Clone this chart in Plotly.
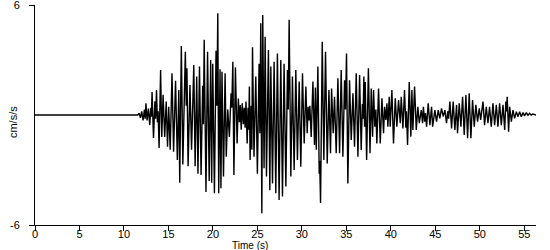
import plotly.graph_objects as go

# Extremes of the acceleration trace (time in s, cm/s/s)
time_s = [
    0, 11.55, 11.7, 11.85, 12.0, 12.15, 12.3, 12.38, 12.47, 12.6, 12.75, 12.9, 13.02, 13.08,
    13.16, 13.32, 13.48, 13.56, 13.66, 13.76, 13.84, 13.95, 14.12, 14.25, 14.4, 14.58, 14.75,
    14.9, 15.03, 15.2, 15.4, 15.58, 15.8, 16.0, 16.17, 16.27, 16.45, 16.62, 16.9, 17.0, 17.08,
    17.21, 17.42, 17.6, 17.85, 18.0, 18.18, 18.32, 18.49, 18.67, 18.85, 18.93, 19.02, 19.22,
    19.4, 19.58, 19.75, 19.86, 19.98, 20.17, 20.35, 20.44, 20.55, 20.65, 20.8, 20.9, 21.02,
    21.19, 21.37, 21.5, 21.67, 21.85, 22.04, 22.12, 22.24, 22.36, 22.53, 22.72, 22.86, 22.98,
    23.08, 23.18, 23.3, 23.42, 23.52, 23.62, 23.72, 23.85, 23.95, 24.02, 24.1, 24.18, 24.3,
    24.38, 24.45, 24.62, 24.82, 25.0, 25.19, 25.28, 25.38, 25.5, 25.6, 25.75, 25.87, 26.02,
    26.24, 26.4, 26.51, 26.7, 26.88, 27.07, 27.25, 27.44, 27.63, 27.82, 28.0, 28.2, 28.38,
    28.47, 28.57, 28.76, 28.94, 29.13, 29.32, 29.5, 29.7, 29.88, 30.07, 30.26, 30.45, 30.6,
    30.7, 30.8, 30.9, 31.05, 31.24, 31.42, 31.52, 31.62, 31.8, 31.95, 32.0, 32.1, 32.29, 32.47,
    32.66, 32.85, 33.04, 33.22, 33.34, 33.52, 33.67, 33.86, 34.05, 34.24, 34.42, 34.61, 34.8,
    34.9, 35.02, 35.17, 35.36, 35.55, 35.74, 35.92, 36.11, 36.3, 36.49, 36.67, 36.8, 36.88,
    36.97, 37.05, 37.12, 37.28, 37.48, 37.66, 37.8, 37.95, 38.06, 38.2, 38.32, 38.43, 38.62,
    38.81, 39.0, 39.18, 39.3, 39.44, 39.56, 39.67, 39.82, 39.93, 40.12, 40.3, 40.5, 40.68,
    40.87, 41.06, 41.17, 41.36, 41.54, 41.69, 41.76, 41.88, 42.07, 42.25, 42.37, 42.48, 42.67,
    42.86, 43.04, 43.2, 43.42, 43.57, 43.66, 43.8, 43.9, 44.02, 44.2, 44.39, 44.58, 44.7,
    44.95, 45.14, 45.33, 45.51, 45.7, 45.89, 46.08, 46.26, 46.4, 46.5, 46.64, 46.83, 47.01,
    47.2, 47.39, 47.5, 47.69, 47.88, 48.07, 48.25, 48.44, 48.63, 48.81, 49.0, 49.19, 49.38,
    49.56, 49.75, 49.94, 50.1, 50.36, 50.54, 50.73, 50.92, 51.1, 51.29, 51.48, 51.67, 51.86,
    52.04, 52.23, 52.42, 52.61, 52.8, 52.93, 53.0, 53.08, 53.24, 53.36, 53.55, 53.73, 53.92,
    54.11, 54.3, 54.48, 54.67, 54.86, 55.04, 55.23, 55.42, 55.6, 55.78, 55.95, 56.32,
]
accel = [
    0, 0, 0.1, -0.15, 0.2, -0.3, 0.3, -0.2, 0.64, -0.3, 0.35, -0.55, 0.4, -0.1,
    1.25, -1.25, 0.75, -0.2, 1.36, -0.4, 0.2, -1.8, 2.45, -1.2, 1.1, -1.2, 0.73,
    -1.73, 0.45, -1.9, 2.27, -2.0, 1.87, -2.45, 1.36, -3.7, 3.76, -2.7, 3.45, 0.5, 2.55,
    -2.8, 1.64, -1.9, 2.73, -2.8, 2.1, -3.2, 2.64, -3.27, 1.6, -0.5, 4.1, -4.2,
    3.45, -3.6, 3.0, -3.7, 2.8, -4.27, 3.5, 0.5, 5.55, -4.27, 2.5, -4.0, 2.36,
    -3.36, 2.27, -2.27, 0.3, -1.2, 1.18, 0.4, 2.9, -3.27, 2.6, -1.55, 0.9, -0.4,
    0.55, -0.8, 0.64, -0.5, 0.4, -0.7, 0.73, -1.55, 0.4, -0.8, 1.55, -2.45, 0.5,
    -1.9, 3.7, -2.27, 2.1, -3.2, 2.8, -1.0, 5.0, -5.36, 5.45, -2.9, 4.27, -3.36,
    3.55, -4.1, 2.64, -3.73, 2.9, -4.27, 3.36, -4.64, 3.0, -4.45, 2.8, -3.9, 2.45,
    0.3, 5.2, -3.36, 2.1, -3.0, 2.45, -2.45, 1.82, -2.82, 2.27, -1.55, 1.55, -1.0,
    0.45, -0.3, 0.5, -1.2, 1.82, -1.64, 1.5, -1.9, 2.64, -3.2, -2.5, -4.8, 4.0, -2.45,
    3.45, -2.64, 1.36, -2.09, 1.45, -1.0, 1.0, -2.09, 2.0, -2.09, 2.45, -2.27, 1.9,
    0.3, 3.36, -3.73, 1.9, -1.36, 1.18, -1.73, 2.27, -2.27, 2.18, -1.91, 0.6, -0.2,
    2.1, -0.64, 1.8, -2.45, 2.55, -2.09, 1.45, -1.18, 1.36, -0.64, 0.3, -1.55, 1.45,
    -1.55, 0.91, -1.0, 0.45, -0.27, 0.64, -0.64, 1.0, -0.64, 1.36, -1.55, 0.91, -0.64,
    0.82, -0.45, 1.0, -0.73, 1.36, -0.7, 0.2, -1.64, 1.8, -1.18, 1.36, -0.82, 1.55,
    -0.82, 0.45, -0.45, 0.27, -0.45, 0.45, -0.36, 0.1, -0.64, 0.64, -0.55, 0.45, -0.64,
    0.27, -0.36, 0.27, -0.18, 0.36, -0.09, 0.27, -0.45, 0.2, -0.2, 0.73, -0.73, 0.73,
    -0.82, 0.55, -1.0, 0.64, -0.64, 1.0, -1.09, 1.09, -1.27, 1.18, -1.27, 0.82, -0.64,
    0.55, -0.36, 0.36, -0.27, 0.73, -0.55, 0.45, -0.45, 0.45, -0.64, 0.64, -0.55, 0.55,
    -0.64, 0.64, -0.55, 0.55, -0.82, 0.73, 0.2, 1.0, -0.91, 0.45, -0.36, 0.27, -0.18,
    0.18, -0.09, 0.18, -0.09, 0.13, -0.05, 0.13, -0.02, 0.09, 0.0, 0.05, 0.0,
]

x_ticks = [0, 5, 10, 15, 20, 25, 30, 35, 40, 45, 50, 55]
y_ticks = [-6, 6]
x_max = 56.32
y_lim = 6

font_family = "Liberation Sans, Arial, sans-serif"

fig = go.Figure()
fig.add_trace(go.Scatter(
    x=time_s, y=accel, mode="lines",
    line=dict(color="black", width=1.4),
    hoverinfo="skip", showlegend=False,
))

fig.update_layout(
    width=550, height=250,
    margin=dict(l=35, r=14, t=5, b=25, autoexpand=False),
    paper_bgcolor="white", plot_bgcolor="white",
    font=dict(family=font_family, size=11, color="black"),
    xaxis=dict(
        range=[0, x_max], tickvals=x_ticks, ticktext=[str(v) for v in x_ticks],
        showline=True, linecolor="black", linewidth=1,
        ticks="outside", ticklen=5, tickcolor="black", tickwidth=1,
        showgrid=False, zeroline=False, ticklabelstandoff=-6,
        ticklabeloverflow="allow", automargin=False,
    ),
    yaxis=dict(
        range=[-y_lim, y_lim], tickvals=y_ticks, ticktext=[str(v) for v in y_ticks],
        showline=True, linecolor="black", linewidth=1,
        ticks="outside", ticklen=5, tickcolor="black", tickwidth=1,
        showgrid=False, zeroline=False, ticklabelstandoff=7,
        ticklabeloverflow="allow", automargin=False,
    ),
    annotations=[
        dict(text="Time (s)", xref="paper", yref="paper", x=0.43, y=-0.093,
             xanchor="center", yanchor="middle", showarrow=False,
             font=dict(size=10)),
        dict(text="cm/s/s", xref="paper", yref="paper", x=-0.045, y=0.47,
             xanchor="center", yanchor="middle", showarrow=False, textangle=-90,
             font=dict(size=11)),
    ],
)

fig.write_html("out.html")
